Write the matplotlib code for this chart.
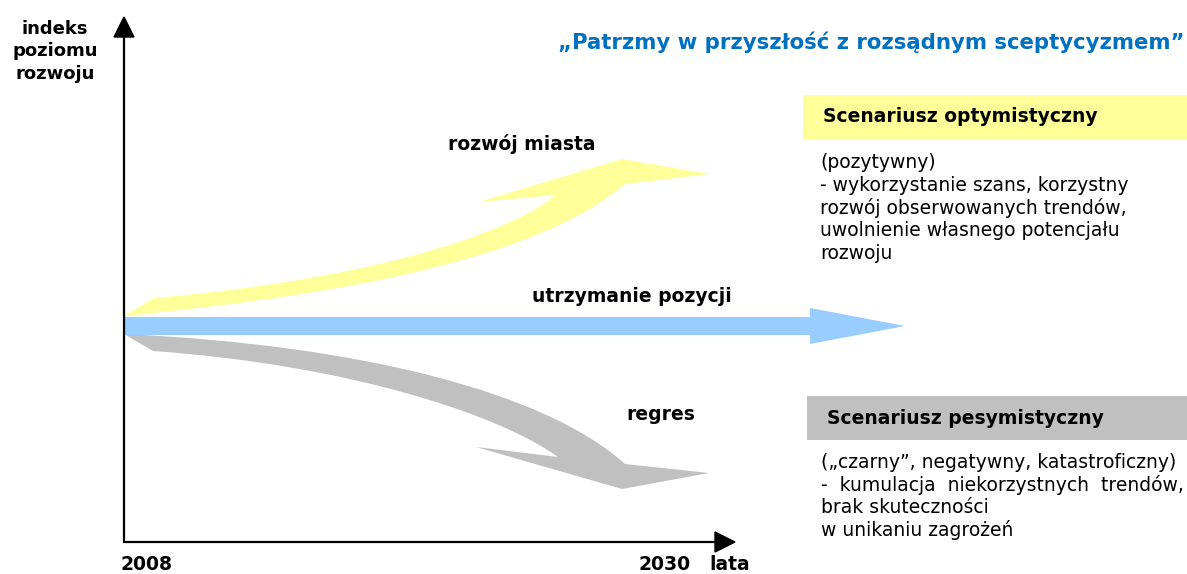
import matplotlib
matplotlib.use("Agg")
import matplotlib.pyplot as plt
from matplotlib.path import Path
from matplotlib.patches import PathPatch, Polygon, Rectangle

plt.rcParams['font.family'] = ['DejaVu Sans']

# ---- content ----
title = "\u201ePatrzmy w przysz\u0142o\u015b\u0107 z rozs\u0105dnym sceptycyzmem\u201d"
y_label_lines = ["indeks", "poziomu", "rozwoju"]
x_tick_labels = ["2008", "2030"]
x_axis_name = "lata"
trend_labels = ["rozw\u00f3j miasta", "utrzymanie pozycji", "regres"]
trend_colors = ["#FFFF99", "#99CCFF", "#C0C0C0"]
scenario_titles = ["Scenariusz optymistyczny", "Scenariusz pesymistyczny"]
scenario_colors = ["#FFFF99", "#C0C0C0"]
scenario_texts = [
    ["(pozytywny)",
     "- wykorzystanie szans, korzystny",
     "rozw\u00f3j obserwowanych trend\u00f3w,",
     "uwolnienie w\u0142asnego potencja\u0142u",
     "rozwoju"],
    ["(\u201eczarny\u201d, negatywny, katastroficzny)",
     "-  kumulacja  niekorzystnych  trend\u00f3w,",
     "brak skuteczno\u015bci",
     "w unikaniu zagro\u017ce\u0144"],
]

W, H = 1187, 574
fig = plt.figure(figsize=(W / 100, H / 100), dpi=100)
ax = fig.add_axes([0, 0, 1, 1])
ax.set_xlim(0, W)
ax.set_ylim(H, 0)
ax.axis('off')

M, C4, L, CL = Path.MOVETO, Path.CURVE4, Path.LINETO, Path.CLOSEPOLY

# yellow (growth) arrow
verts_up = [(124, 316), (360, 293), (540, 256), (625, 184),
            (710, 174), (622, 159), (478, 202), (556, 195),
            (500, 240), (350, 281), (154, 298), (124, 316)]
codes = [M, C4, C4, C4, L, L, L, L, C4, C4, C4, CL]
ax.add_patch(PathPatch(Path(verts_up, codes), facecolor=trend_colors[0],
                       edgecolor='none', zorder=2))

# grey (regress) arrow
verts_dn = [(124, 334), (360, 345), (545, 392), (625, 464),
            (709, 473), (622, 489), (476, 447), (558, 457),
            (500, 415), (350, 365), (153, 351), (124, 334)]
ax.add_patch(PathPatch(Path(verts_dn, codes), facecolor=trend_colors[2],
                       edgecolor='none', zorder=2))

# blue (steady) arrow
ax.add_patch(Polygon([(124, 317), (810, 317), (810, 308), (905, 326),
                      (810, 344), (810, 335), (124, 335)],
                     closed=True, facecolor=trend_colors[1], edgecolor='none', zorder=2))

# axes
ax.plot([124, 124], [543, 35], color='black', lw=1.6, zorder=3, solid_capstyle='butt')
ax.add_patch(Polygon([(114, 37), (124, 17), (134, 37)], closed=True, color='black', zorder=3))
ax.plot([123, 717], [542, 542], color='black', lw=1.6, zorder=3, solid_capstyle='butt')
ax.add_patch(Polygon([(715, 532), (735, 542), (715, 552)], closed=True, color='black', zorder=3))

fs = 13.5
for i, s in enumerate(y_label_lines):
    ax.text(55, 29 + 22.5 * i, s, ha='center', va='center', fontsize=13, fontweight='bold')
ax.text(146, 565, x_tick_labels[0], ha='center', va='center', fontsize=fs, fontweight='bold')
ax.text(665, 565, x_tick_labels[1], ha='center', va='center', fontsize=fs, fontweight='bold')
ax.text(730, 565, x_axis_name, ha='center', va='center', fontsize=fs, fontweight='bold')

ax.text(522, 144, trend_labels[0], ha='center', va='center', fontsize=fs, fontweight='bold')
ax.text(632, 297, trend_labels[1], ha='center', va='center', fontsize=fs, fontweight='bold')
ax.text(661, 414, trend_labels[2], ha='center', va='center', fontsize=fs, fontweight='bold')

ax.text(1184, 42, title, ha='right', va='center', fontsize=15.3, fontweight='bold', color='#0070C0')

# scenario boxes
ax.add_patch(Rectangle((803, 95), W - 803, 45, facecolor=scenario_colors[0], edgecolor='none'))
ax.text(823, 117, scenario_titles[0], ha='left', va='center', fontsize=fs, fontweight='bold')
for i, s in enumerate(scenario_texts[0]):
    ax.text(820, 163 + 22.6 * i, s, ha='left', va='center', fontsize=fs)

ax.add_patch(Rectangle((807, 396), W - 807, 44, facecolor=scenario_colors[1], edgecolor='none'))
ax.text(827, 418, scenario_titles[1], ha='left', va='center', fontsize=fs, fontweight='bold')
for i, s in enumerate(scenario_texts[1]):
    ax.text(821, 462 + 22.6 * i, s, ha='left', va='center', fontsize=fs)

fig.savefig("out.png", dpi=100)
